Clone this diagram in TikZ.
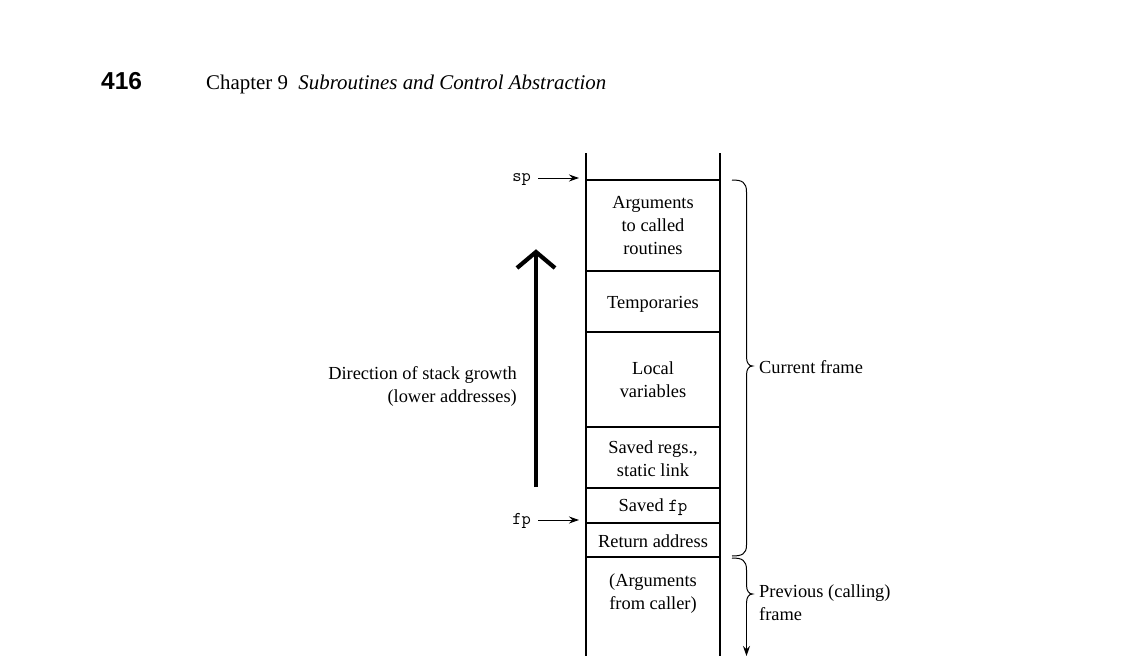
\documentclass[tikz,border=0pt]{standalone}
\usepackage{fontspec}
\setmainfont{Liberation Serif}
\newfontfamily\headsans{Liberation Sans}
\usetikzlibrary{arrows.meta}
\begin{document}
\begin{tikzpicture}[x=1pt,y=-1pt,
  txt/.style={font=\fontsize{18.4}{23}\selectfont, inner sep=0pt},
  cell/.style={txt, align=center},
  wall/.style={line width=1.6pt},
  ptr/.style={line width=1pt,-{Stealth[length=10pt,width=7pt]}},
  brace/.style={line width=1pt},
  code/.style={font=\fontsize{18}{22}\selectfont\ttfamily, inner sep=0pt}]
\useasboundingbox (0,0) rectangle (1128,669);
% header
\node[anchor=base west, inner sep=0pt, font=\headsans\bfseries\fontsize{24.5}{28}\selectfont] (pg) at (101,90) {416};
\node[anchor=base west, inner sep=0pt, font=\fontsize{20.9}{24}\selectfont] (hd) at (206,90) {Chapter 9\ \ \textit{Subroutines and Control Abstraction}};
% stack walls
\coordinate (lt) at (586,153); \coordinate (lb) at (586,656);
\coordinate (rt) at (720,153); \coordinate (rb) at (720,656);
\draw[wall] (lt) -- (lb);
\draw[wall] (rt) -- (rb);
% separators
\foreach \yy/\nm in {180/s1,271/s2,332/s3,427/s4,488/s5,523/s6,557/s7}{
  \coordinate (\nm l) at (586,\yy); \coordinate (\nm r) at (720,\yy);
  \draw[wall] (\nm l) -- (\nm r);
}
% cell texts
\node[cell] (args) at (653,226) {Arguments\\to called\\routines};
\node[cell] (temp) at (653,304) {Temporaries};
\node[cell] (loc) at (653,380) {Local\\variables};
\node[cell] (regs) at (653,459) {Saved regs.,\\static link};
\node[cell] (sfp) at (653,507.5) {Saved \texttt{fp}};
\node[cell] (ret) at (653,541.5) {Return address};
\node[cell] (prev) at (653,593.5) {(Arguments\\from caller)};
% pointers
\node[code, anchor=base east] (sp) at (531,181) {sp};
\node[code, anchor=base east] (fp) at (531,524) {fp};
\coordinate (spt) at (579,178);
\coordinate (fpt) at (579,520);
\draw[ptr] ([xshift=7pt]sp.east |- spt) -- (spt);
\draw[ptr] ([xshift=7pt]fp.east |- fpt) -- (fpt);
% growth arrow
\coordinate (gbot) at (536,487);
\coordinate (gtop) at (536,252);
\draw[line width=4.5pt] (gbot) -- (gtop);
\draw[line width=4.2pt, line join=miter, line cap=butt] (517,268) -- (gtop) -- (555,268);
\node[txt, align=right, anchor=east] (dir) at (517,386.5) {Direction of stack growth\\(lower addresses)};
% current frame brace
\draw[brace] (732,180) .. controls (742,180) and (746.5,182) .. (746.5,192)
  -- (746.5,357) .. controls (746.5,363) and (749,366) .. (752.5,366)
  .. controls (749,366) and (746.5,369) .. (746.5,375)
  -- (746.5,545) .. controls (746.5,554) and (742,556) .. (732,556);
\node[txt, anchor=west] (cur) at (759,367.5) {Current frame};
% previous frame brace
\coordinate (pend) at (746.5,656);
\draw[brace] (732,558) .. controls (742,558) and (746.5,560) .. (746.5,570)
  -- (746.5,585) .. controls (746.5,591) and (749,594) .. (752.5,594)
  .. controls (749,594) and (746.5,597) .. (746.5,603);
\draw[brace, -{Stealth[length=10pt,width=7pt]}] (746.5,602) -- (pend);
\node[txt, anchor=west, align=left] (prv) at (759,602.5) {Previous (calling)\\frame};
\end{tikzpicture}
\end{document}
